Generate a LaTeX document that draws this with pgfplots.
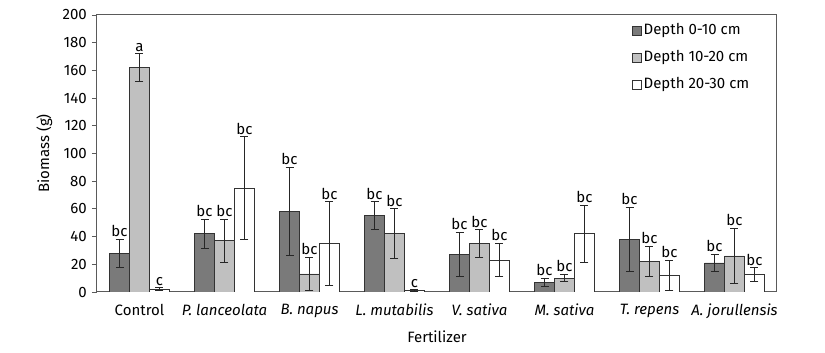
\documentclass[border=0pt]{standalone}
\usepackage{pgfplots}
\usepackage{pgfplotstable}
\pgfplotsset{compat=1.18}
\usepackage{fontspec}
\setmainfont{Fira Sans}
\definecolor{darkbar}{RGB}{122,122,122}
\definecolor{lightbar}{RGB}{192,192,192}
\definecolor{axisgray}{RGB}{90,90,90}

\pgfplotstableread{
x d1 e1 l1 d2 e2 l2 d3 e3 l3
0 28 10 bc 162 10 a 2 1 c
1 42 10.5 bc 37 15.5 bc 75 37 bc
2 58 32 bc 13 12 bc 35 30 bc
3 55 10 bc 42 18 bc 1 0.5 c
4 27 16 bc 35 10 bc 23 12 bc
5 7 3 bc 10 2.6 bc 42 20.5 bc
6 38 23 bc 22 11 bc 12 11 bc
7 21 6.4 bc 26 20 bc 12.5 5 bc
}\datatable

\begin{document}
\fontsize{15}{18}\selectfont
\begin{tikzpicture}
\begin{axis}[
  scale only axis,
  width=680pt, height=277pt,
  ybar=0pt, bar width=0.235,
  xmin=-0.5, xmax=7.5, ymin=0, ymax=200,
  ytick={0,20,...,200},
  xtick={0,...,7},
  xticklabels={Control,\textit{P. lanceolata},\textit{B. napus},\textit{L. mutabilis},\textit{V. sativa},\textit{M. sativa},\textit{T. repens},\textit{A. jorullensis}},
  x tick style={draw=none},
  ytick pos=left, tick align=outside,
  y tick style={axisgray, line width=0.8pt},
  major tick length=5pt,
  axis line style={axisgray, line width=1pt},
  /pgf/number format/assume math mode=true,
  ylabel={Biomass (g)}, xlabel={Fertilizer},
  ylabel style={yshift=0pt},
  xlabel style={yshift=-2pt},
  xticklabel style={yshift=-2pt},
  legend style={draw=none, fill=none, at={(0.785,0.98)}, anchor=north west,
    row sep=9.5pt, inner sep=1pt, legend cell align=left,
    /tikz/every even column/.append style={column sep=2pt}},
  legend image code/.code={\draw[#1, draw=black!80, line width=0.6pt] (0pt,-4.5pt) rectangle (9pt,4.5pt);},
  error bars/error bar style={black!85, line width=1pt},
  error bars/error mark options={rotate=90, black!85, mark size=4pt, line width=1pt},
  point meta=explicit symbolic,
  nodes near coords,
  every node near coord/.append style={anchor=south, inner sep=2pt, black},
]
\addplot[fill=darkbar, draw=black!80, line width=0.8pt,
  error bars/.cd, y dir=both, y explicit,
  /pgfplots/.cd,
  visualization depends on={\thisrow{e1} \as \myerr},
  every node near coord/.append style={shift={(axis direction cs:0,\myerr)}}]
  table[x=x, y=d1, y error=e1, meta=l1]{\datatable};
\addlegendentry{Depth 0-10 cm}
\addplot[fill=lightbar, draw=black!80, line width=0.8pt,
  error bars/.cd, y dir=both, y explicit,
  /pgfplots/.cd,
  visualization depends on={\thisrow{e2} \as \myerr},
  every node near coord/.append style={shift={(axis direction cs:0,\myerr)}}]
  table[x=x, y=d2, y error=e2, meta=l2]{\datatable};
\addlegendentry{Depth 10-20 cm}
\addplot[fill=white, draw=black!80, line width=0.8pt,
  error bars/.cd, y dir=both, y explicit,
  /pgfplots/.cd,
  visualization depends on={\thisrow{e3} \as \myerr},
  every node near coord/.append style={shift={(axis direction cs:0,\myerr)}}]
  table[x=x, y=d3, y error=e3, meta=l3]{\datatable};
\addlegendentry{Depth 20-30 cm}
\end{axis}
\path (current axis.south west) ++(-97pt,-61pt) rectangle ++(825pt,353pt);
\end{tikzpicture}
\end{document}
